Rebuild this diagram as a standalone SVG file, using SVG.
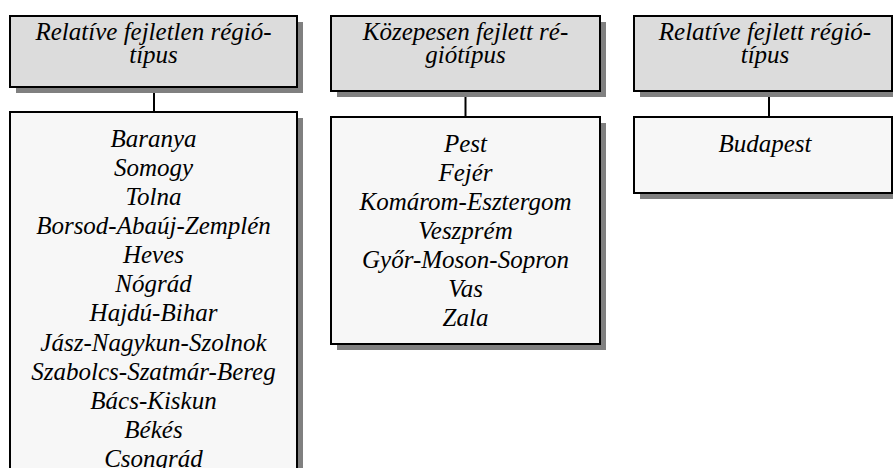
<svg xmlns="http://www.w3.org/2000/svg" width="893" height="468" viewBox="0 0 893 468">
<style>
.shadow{fill:#808080;stroke:none}
.head{fill:#dcdcdc;stroke:#000;stroke-width:2}
.body{fill:#f7f7f7;stroke:#000;stroke-width:2}
.conn{stroke:#000;stroke-width:2;fill:none}
text{font-family:"Liberation Serif","Times New Roman",serif;font-style:italic;font-size:25px;fill:#000;text-anchor:middle}
</style>
<rect width="893" height="468" fill="#fff"/>
<g id="connectors">
<line class="conn" x1="154" y1="87" x2="154" y2="112"/>
<line class="conn" x1="465.5" y1="91" x2="465.5" y2="117"/>
<line class="conn" x1="769" y1="91" x2="769" y2="117"/>
</g>
<g id="head1">
<rect class="shadow" x="16" y="22" width="287" height="71"/>
<rect class="head" x="10" y="16" width="287" height="71"/>
<text x="153.5" y="40">Relatíve fejletlen régió-</text>
<text x="153.5" y="63">típus</text>
</g>
<g id="body1">
<rect class="shadow" x="16" y="118" width="287" height="370"/>
<rect class="body" x="10" y="112" width="287" height="370"/>
<text x="153.5" y="147">Baranya</text>
<text x="153.5" y="176">Somogy</text>
<text x="153.5" y="205">Tolna</text>
<text x="153.5" y="234">Borsod-Abaúj-Zemplén</text>
<text x="153.5" y="263">Heves</text>
<text x="153.5" y="292">Nógrád</text>
<text x="153.5" y="321">Hajdú-Bihar</text>
<text x="153.5" y="351">Jász-Nagykun-Szolnok</text>
<text x="153.5" y="380">Szabolcs-Szatmár-Bereg</text>
<text x="153.5" y="409">Bács-Kiskun</text>
<text x="153.5" y="438">Békés</text>
<text x="153.5" y="467">Csongrád</text>
</g>
<g id="head2">
<rect class="shadow" x="337" y="22" width="269" height="75"/>
<rect class="head" x="331" y="16" width="269" height="75"/>
<text x="465.5" y="40">Közepesen fejlett ré-</text>
<text x="465.5" y="63">giótípus</text>
</g>
<g id="body2">
<rect class="shadow" x="337" y="123" width="269" height="227"/>
<rect class="body" x="331" y="117" width="269" height="227"/>
<text x="465.5" y="152">Pest</text>
<text x="465.5" y="181">Fejér</text>
<text x="465.5" y="210">Komárom-Esztergom</text>
<text x="465.5" y="239">Veszprém</text>
<text x="465.5" y="268">Győr-Moson-Sopron</text>
<text x="465.5" y="297">Vas</text>
<text x="465.5" y="326">Zala</text>
</g>
<g id="head3">
<rect class="shadow" x="640" y="22" width="258" height="75"/>
<rect class="head" x="634" y="16" width="258" height="75"/>
<text x="765" y="40">Relatíve fejlett régió-</text>
<text x="765" y="63">típus</text>
</g>
<g id="body3">
<rect class="shadow" x="640" y="123" width="258" height="76"/>
<rect class="body" x="634" y="117" width="258" height="76"/>
<text x="765" y="152">Budapest</text>
</g>
</svg>
